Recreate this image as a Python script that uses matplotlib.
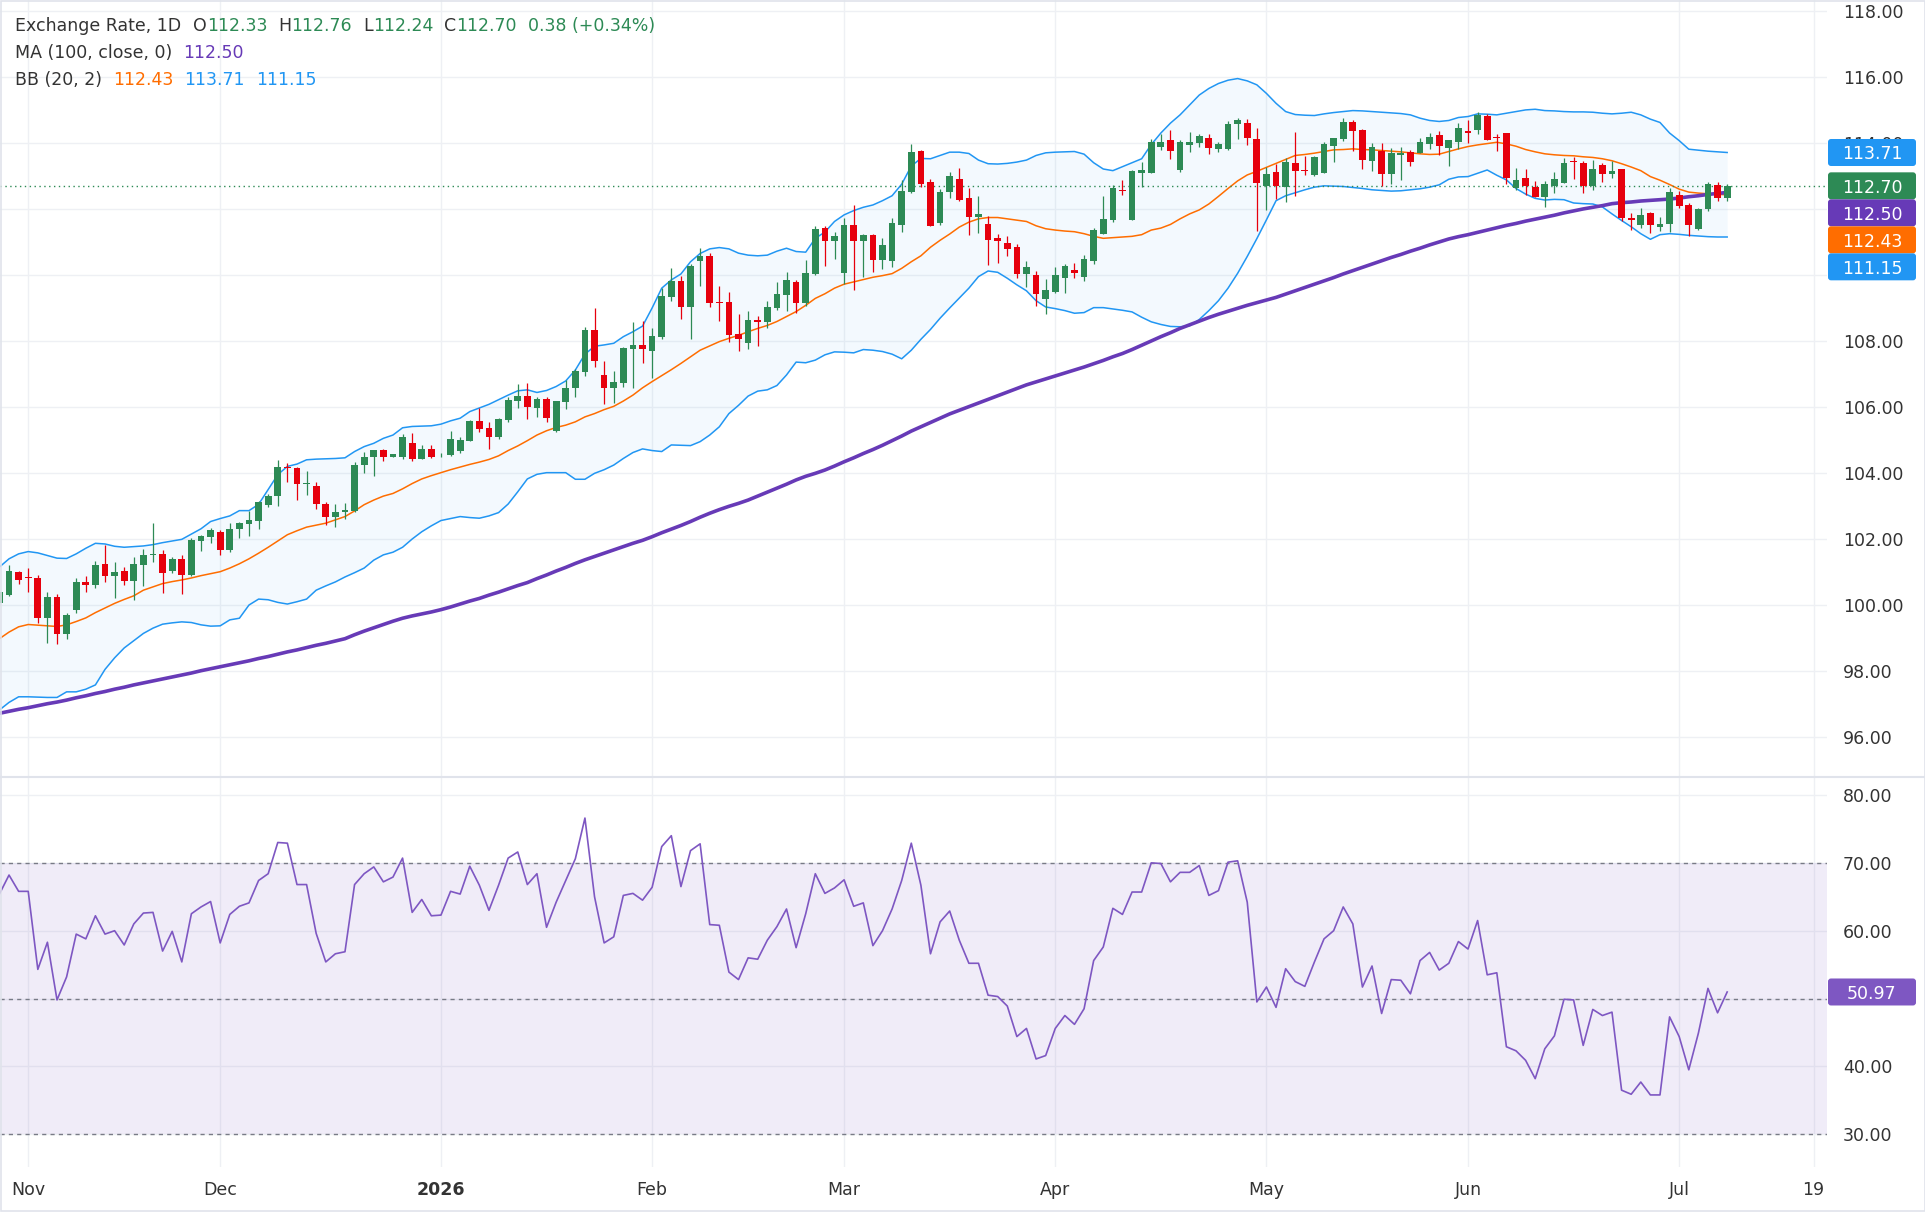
import matplotlib.pyplot as plt
import numpy as np
import pandas as pd
from matplotlib.patches import Rectangle, FancyBboxPatch
from matplotlib.transforms import IdentityTransform, Bbox
from matplotlib.lines import Line2D

# daily bars, 29 Oct 2025 .. 8 Jul 2026 (weekdays)
dates = pd.bdate_range('2025-10-29', '2026-07-08')

opens = [100.05, 100.30, 101.00, 100.85, 100.82, 99.62, 100.24, 99.13, 99.85, 100.69,
         100.61, 101.24, 100.89, 101.03, 100.74, 101.22, 101.52, 101.55, 101.04, 101.39,
         100.91, 101.95, 102.07, 102.22, 101.67, 102.29, 102.47, 102.56, 103.03, 103.30,
         104.17, 104.14, 103.68, 103.61, 103.06, 102.66, 102.81, 102.86, 104.24, 104.47,
         104.70, 104.49, 104.49, 104.91, 104.43, 104.73, 104.50, 104.56, 104.67, 104.97,
         105.58, 105.36, 105.10, 105.61, 106.19, 106.33, 105.98, 106.24, 105.28, 106.16,
         106.57, 107.07, 108.33, 106.97, 106.59, 106.74, 107.77, 107.87, 107.71, 108.13,
         109.34, 109.82, 109.04, 110.43, 110.58, 109.17, 109.18, 108.21, 107.95, 108.64,
         108.56, 109.01, 109.40, 109.79, 109.16, 110.03, 111.42, 111.04, 110.07, 111.52,
         111.04, 111.21, 110.46, 110.43, 111.52, 112.52, 113.76, 112.82, 111.58, 112.50,
         112.91, 112.33, 111.77, 111.55, 111.13, 110.97, 110.86, 110.03, 110.00, 109.27,
         109.47, 109.92, 110.15, 109.95, 110.42, 111.25, 111.65, 112.58, 111.65, 113.08,
         113.10, 113.89, 114.09, 113.18, 113.93, 113.99, 114.14, 113.83, 113.82, 114.57,
         114.60, 114.11, 112.71, 113.11, 112.65, 113.38, 113.17, 113.03, 113.10, 113.91,
         114.13, 114.64, 114.39, 113.46, 113.75, 113.07, 113.62, 113.73, 113.70, 113.97,
         114.24, 113.85, 114.03, 114.36, 114.39, 114.82, 114.18, 114.30, 112.62, 112.93,
         112.66, 112.35, 112.70, 112.79, 113.43, 113.39, 112.70, 113.33, 113.06, 113.21,
         111.73, 111.52, 111.89, 111.46, 111.55, 112.42, 112.12, 111.39, 112.00, 112.72,
         112.33]
highs = [100.45, 101.21, 101.03, 101.13, 100.91, 100.40, 100.33, 99.77, 100.83, 100.88,
         101.33, 101.82, 101.30, 101.15, 101.44, 101.70, 102.48, 101.67, 101.47, 101.52,
         102.02, 102.12, 102.34, 102.27, 102.48, 102.52, 102.85, 103.15, 103.36, 104.39,
         104.29, 104.19, 104.06, 103.72, 103.13, 103.06, 103.08, 104.32, 104.63, 104.70,
         104.72, 104.58, 105.17, 105.21, 104.85, 104.85, 104.60, 105.27, 105.08, 105.61,
         105.96, 105.54, 105.68, 106.31, 106.70, 106.72, 106.31, 106.31, 106.18, 106.82,
         107.14, 108.43, 109.01, 107.39, 107.09, 107.83, 108.58, 108.60, 108.40, 109.59,
         110.21, 109.96, 110.33, 110.82, 110.67, 109.67, 109.47, 108.82, 108.92, 108.76,
         109.21, 109.79, 110.09, 109.85, 110.45, 111.48, 111.48, 111.30, 111.72, 112.12,
         111.23, 111.24, 111.11, 111.72, 112.88, 113.98, 113.79, 112.90, 112.60, 113.12,
         113.24, 112.64, 112.39, 111.79, 111.25, 111.18, 110.94, 110.43, 110.12, 109.88,
         110.25, 110.32, 110.35, 110.61, 111.41, 112.39, 112.74, 112.88, 113.18, 113.42,
         114.11, 114.27, 114.39, 114.09, 114.33, 114.27, 114.27, 114.03, 114.66, 114.75,
         114.72, 114.45, 113.26, 113.35, 113.54, 114.32, 113.61, 113.61, 114.03, 114.15,
         114.76, 114.70, 114.42, 113.99, 113.99, 113.84, 113.89, 113.79, 114.15, 114.30,
         114.36, 114.09, 114.61, 114.70, 114.94, 114.88, 114.26, 114.30, 113.24, 113.21,
         112.85, 112.85, 113.12, 113.55, 113.58, 113.45, 113.48, 113.39, 113.45, 113.21,
         111.87, 112.02, 111.91, 111.75, 112.63, 112.53, 112.17, 112.03, 112.82, 112.82,
         112.76]
lows = [99.98, 100.27, 100.64, 100.40, 99.46, 98.84, 98.83, 98.98, 99.77, 100.40,
        100.53, 100.71, 100.22, 100.61, 100.15, 100.59, 101.31, 100.37, 100.98, 100.34,
        100.89, 101.65, 101.87, 101.52, 101.61, 102.04, 102.10, 102.30, 102.98, 103.01,
        103.74, 103.18, 103.33, 102.90, 102.42, 102.35, 102.60, 102.83, 104.01, 103.92,
        104.37, 104.47, 104.43, 104.37, 104.41, 104.46, 104.49, 104.53, 104.60, 104.97,
        105.25, 104.74, 105.04, 105.56, 105.98, 105.63, 105.69, 105.56, 105.25, 105.93,
        106.31, 106.95, 107.22, 106.09, 106.11, 106.62, 106.57, 107.32, 106.89, 108.07,
        109.22, 108.68, 108.07, 109.68, 109.04, 108.59, 107.98, 107.71, 107.77, 107.86,
        108.40, 108.94, 108.92, 108.84, 109.06, 110.00, 110.28, 110.48, 109.72, 109.55,
        109.95, 110.10, 110.17, 110.25, 111.31, 112.49, 112.65, 111.48, 111.52, 112.32,
        112.24, 111.21, 111.28, 110.30, 110.36, 110.56, 109.92, 109.65, 109.07, 108.81,
        109.44, 109.44, 109.92, 109.82, 110.33, 111.25, 111.59, 112.42, 111.65, 112.65,
        113.10, 113.79, 113.52, 113.13, 113.74, 113.89, 113.67, 113.71, 113.80, 114.13,
        113.94, 111.34, 111.97, 112.30, 112.22, 112.39, 113.03, 113.00, 113.10, 113.43,
        114.07, 113.77, 113.21, 113.16, 112.68, 112.76, 112.88, 113.30, 113.68, 113.82,
        113.62, 113.30, 113.82, 114.01, 114.27, 114.09, 113.76, 112.77, 112.58, 112.43,
        112.35, 112.07, 112.48, 112.79, 112.91, 112.49, 112.58, 112.82, 112.94, 111.62,
        111.35, 111.41, 111.26, 111.34, 111.31, 112.02, 111.19, 111.36, 111.94, 112.25,
        112.24]
closes = [100.40, 101.03, 100.76, 100.83, 99.62, 100.23, 99.13, 99.70, 100.69, 100.62,
          101.21, 100.89, 100.99, 100.74, 101.24, 101.52, 101.53, 100.98, 101.39, 100.91,
          101.98, 102.09, 102.27, 101.67, 102.30, 102.48, 102.58, 103.12, 103.30, 104.18,
          104.14, 103.66, 103.70, 103.05, 102.66, 102.82, 102.88, 104.24, 104.49, 104.70,
          104.49, 104.57, 105.09, 104.41, 104.73, 104.49, 104.53, 105.02, 105.00, 105.58,
          105.33, 105.10, 105.65, 106.21, 106.33, 106.01, 106.24, 105.66, 106.18, 106.58,
          107.10, 108.33, 107.40, 106.59, 106.75, 107.79, 107.87, 107.77, 108.15, 109.36,
          109.82, 109.04, 110.27, 110.58, 109.16, 109.15, 108.18, 108.07, 108.64, 108.56,
          109.03, 109.42, 109.85, 109.16, 110.06, 111.39, 111.04, 111.18, 111.52, 111.04,
          111.21, 110.46, 110.91, 111.58, 112.55, 113.71, 112.76, 111.48, 112.52, 113.00,
          112.27, 111.77, 111.85, 111.06, 111.04, 110.79, 110.03, 110.24, 109.43, 109.55,
          110.00, 110.27, 110.07, 110.48, 111.36, 111.70, 112.64, 112.53, 113.15, 113.18,
          114.03, 114.03, 113.77, 114.02, 114.03, 114.21, 113.86, 113.96, 114.58, 114.68,
          114.16, 112.78, 113.05, 112.68, 113.41, 113.16, 113.15, 113.57, 113.97, 114.15,
          114.62, 114.37, 113.49, 113.87, 113.07, 113.70, 113.70, 113.43, 114.03, 114.18,
          113.91, 114.08, 114.45, 114.31, 114.86, 114.09, 114.16, 112.95, 112.88, 112.68,
          112.35, 112.76, 112.91, 113.39, 113.41, 112.68, 113.21, 113.06, 113.15, 111.74,
          111.65, 111.82, 111.52, 111.55, 112.52, 112.10, 111.52, 112.01, 112.76, 112.32,
          112.70]

ma100 = [96.72, 96.78, 96.84, 96.89, 96.95, 97.01, 97.06, 97.12, 97.19, 97.25,
         97.32, 97.38, 97.45, 97.51, 97.58, 97.64, 97.70, 97.76, 97.82, 97.88,
         97.94, 98.01, 98.07, 98.13, 98.19, 98.25, 98.31, 98.38, 98.44, 98.51,
         98.58, 98.64, 98.71, 98.78, 98.84, 98.91, 98.98, 99.10, 99.21, 99.31,
         99.41, 99.51, 99.60, 99.67, 99.73, 99.79, 99.86, 99.94, 100.03, 100.12,
         100.20, 100.30, 100.39, 100.49, 100.59, 100.68, 100.80, 100.91, 101.03, 101.14,
         101.26, 101.37, 101.47, 101.57, 101.67, 101.77, 101.87, 101.96, 102.07, 102.19,
         102.30, 102.41, 102.53, 102.66, 102.78, 102.89, 102.99, 103.08, 103.18, 103.30,
         103.42, 103.54, 103.66, 103.79, 103.90, 103.99, 104.09, 104.21, 104.34, 104.46,
         104.59, 104.71, 104.84, 104.98, 105.12, 105.27, 105.40, 105.53, 105.66, 105.79,
         105.90, 106.01, 106.12, 106.23, 106.34, 106.45, 106.56, 106.67, 106.76, 106.85,
         106.94, 107.03, 107.12, 107.21, 107.31, 107.41, 107.52, 107.62, 107.74, 107.87,
         108.00, 108.13, 108.25, 108.38, 108.49, 108.60, 108.71, 108.81, 108.90, 108.99,
         109.08, 109.16, 109.24, 109.32, 109.42, 109.52, 109.62, 109.72, 109.82, 109.92,
         110.03, 110.13, 110.23, 110.33, 110.43, 110.53, 110.62, 110.72, 110.81, 110.91,
         111.00, 111.09, 111.16, 111.22, 111.29, 111.36, 111.43, 111.50, 111.56, 111.63,
         111.69, 111.75, 111.81, 111.88, 111.94, 112.00, 112.05, 112.10, 112.16, 112.19,
         112.21, 112.24, 112.26, 112.28, 112.30, 112.33, 112.37, 112.40, 112.44, 112.47,
         112.50]
bb_upper = [101.15, 101.40, 101.55, 101.62, 101.58, 101.50, 101.42, 101.41, 101.55, 101.72,
            101.87, 101.85, 101.78, 101.75, 101.77, 101.79, 101.83, 101.89, 101.94, 101.99,
            102.15, 102.31, 102.53, 102.62, 102.70, 102.86, 102.86, 103.05, 103.50, 103.95,
            104.20, 104.27, 104.40, 104.42, 104.43, 104.44, 104.46, 104.65, 104.80, 104.90,
            105.05, 105.15, 105.37, 105.41, 105.42, 105.43, 105.48, 105.58, 105.66, 105.86,
            105.97, 106.08, 106.22, 106.36, 106.49, 106.52, 106.44, 106.50, 106.62, 106.79,
            107.12, 107.60, 107.84, 107.88, 107.93, 108.13, 108.28, 108.45, 109.00, 109.60,
            109.85, 110.03, 110.40, 110.65, 110.79, 110.83, 110.79, 110.66, 110.60, 110.58,
            110.60, 110.72, 110.81, 110.71, 110.69, 111.11, 111.30, 111.62, 111.82, 111.95,
            112.05, 112.12, 112.25, 112.40, 112.75, 113.30, 113.53, 113.52, 113.62, 113.72,
            113.72, 113.68, 113.48, 113.37, 113.36, 113.38, 113.42, 113.48, 113.62, 113.70,
            113.72, 113.73, 113.74, 113.66, 113.40, 113.21, 113.16, 113.28, 113.40, 113.52,
            113.95, 114.30, 114.60, 114.85, 115.15, 115.45, 115.65, 115.80, 115.90, 115.95,
            115.88, 115.76, 115.50, 115.20, 114.95, 114.86, 114.84, 114.83, 114.88, 114.92,
            114.95, 114.98, 114.97, 114.95, 114.93, 114.91, 114.89, 114.85, 114.75, 114.68,
            114.65, 114.68, 114.77, 114.80, 114.88, 114.87, 114.85, 114.90, 114.95, 115.00,
            115.02, 114.98, 114.97, 114.95, 114.94, 114.94, 114.93, 114.90, 114.88, 114.90,
            114.93, 114.85, 114.72, 114.62, 114.30, 114.07, 113.81, 113.78, 113.75, 113.73,
            113.71]
bb_middle = [98.98, 99.18, 99.34, 99.41, 99.39, 99.37, 99.35, 99.40, 99.50, 99.61,
             99.77, 99.91, 100.05, 100.17, 100.28, 100.45, 100.55, 100.65, 100.71, 100.76,
             100.82, 100.89, 100.95, 101.01, 101.12, 101.25, 101.40, 101.57, 101.75, 101.94,
             102.13, 102.25, 102.36, 102.42, 102.48, 102.58, 102.68, 102.85, 103.04, 103.18,
             103.30, 103.38, 103.52, 103.68, 103.82, 103.92, 104.01, 104.10, 104.18, 104.26,
             104.33, 104.41, 104.52, 104.68, 104.82, 104.98, 105.15, 105.28, 105.38, 105.45,
             105.55, 105.70, 105.80, 105.92, 106.02, 106.18, 106.36, 106.58, 106.77, 106.95,
             107.13, 107.32, 107.52, 107.72, 107.85, 107.98, 108.08, 108.17, 108.28, 108.38,
             108.47, 108.59, 108.74, 108.89, 109.08, 109.29, 109.43, 109.60, 109.72, 109.79,
             109.86, 109.93, 109.98, 110.04, 110.20, 110.40, 110.58, 110.84, 111.05, 111.24,
             111.45, 111.60, 111.70, 111.74, 111.74, 111.70, 111.66, 111.62, 111.49, 111.40,
             111.36, 111.33, 111.31, 111.25, 111.17, 111.11, 111.13, 111.15, 111.17, 111.22,
             111.36, 111.42, 111.53, 111.70, 111.85, 111.97, 112.15, 112.38, 112.62, 112.85,
             113.03, 113.14, 113.26, 113.38, 113.50, 113.62, 113.65, 113.69, 113.74, 113.79,
             113.80, 113.82, 113.80, 113.79, 113.77, 113.75, 113.73, 113.70, 113.67, 113.65,
             113.66, 113.74, 113.82, 113.89, 113.94, 113.98, 114.02, 113.97, 113.90, 113.80,
             113.73, 113.67, 113.64, 113.62, 113.61, 113.58, 113.56, 113.52, 113.46, 113.37,
             113.27, 113.16, 112.98, 112.87, 112.74, 112.60, 112.51, 112.48, 112.46, 112.44,
             112.43]
bb_lower = [96.82, 97.05, 97.22, 97.22, 97.21, 97.20, 97.20, 97.37, 97.37, 97.45,
            97.58, 98.05, 98.40, 98.70, 98.92, 99.14, 99.30, 99.42, 99.46, 99.49,
            99.47, 99.40, 99.36, 99.37, 99.55, 99.60, 100.00, 100.18, 100.16, 100.08,
            100.03, 100.10, 100.18, 100.45, 100.58, 100.70, 100.85, 100.98, 101.12, 101.36,
            101.52, 101.60, 101.75, 102.00, 102.22, 102.40, 102.56, 102.62, 102.68, 102.65,
            102.63, 102.70, 102.80, 103.06, 103.43, 103.82, 103.96, 104.01, 104.01, 104.01,
            103.81, 103.81, 103.99, 104.10, 104.24, 104.44, 104.62, 104.73, 104.68, 104.65,
            104.85, 104.84, 104.83, 104.95, 105.15, 105.40, 105.80, 106.05, 106.33, 106.48,
            106.52, 106.65, 106.97, 107.36, 107.34, 107.42, 107.58, 107.67, 107.66, 107.64,
            107.74, 107.72, 107.68, 107.60, 107.46, 107.72, 108.05, 108.35, 108.69, 109.00,
            109.30, 109.60, 109.95, 110.12, 110.08, 109.90, 109.70, 109.52, 109.22, 109.03,
            108.98, 108.92, 108.84, 108.86, 109.01, 109.01, 108.97, 108.93, 108.88, 108.72,
            108.58, 108.50, 108.44, 108.43, 108.46, 108.65, 108.92, 109.22, 109.60, 110.05,
            110.56, 111.10, 111.67, 112.25, 112.40, 112.49, 112.58, 112.66, 112.70, 112.69,
            112.68, 112.65, 112.62, 112.58, 112.56, 112.54, 112.55, 112.58, 112.61, 112.66,
            112.73, 112.90, 112.97, 112.98, 113.08, 113.18, 113.02, 112.88, 112.62, 112.45,
            112.32, 112.27, 112.29, 112.28, 112.18, 112.16, 112.15, 112.06, 111.85, 111.65,
            111.46, 111.25, 111.08, 111.22, 111.25, 111.23, 111.20, 111.18, 111.16, 111.15,
            111.15]
rsi = [65.4, 68.2, 65.8, 65.8, 54.3, 58.3, 49.8, 53.2, 59.5, 58.8,
       62.2, 59.5, 60.0, 57.9, 61.0, 62.6, 62.7, 57.0, 59.9, 55.4,
       62.5, 63.5, 64.3, 58.2, 62.4, 63.6, 64.1, 67.4, 68.4, 73.0,
       72.9, 66.8, 66.8, 59.6, 55.4, 56.6, 56.9, 66.8, 68.4, 69.4,
       67.2, 67.9, 70.7, 62.7, 64.6, 62.2, 62.3, 65.8, 65.4, 69.5,
       66.7, 63.0, 66.7, 70.7, 71.6, 66.8, 68.4, 60.5, 64.2, 67.4,
       70.6, 76.6, 65.0, 58.2, 59.1, 65.2, 65.5, 64.5, 66.4, 72.4,
       74.0, 66.5, 71.8, 72.8, 60.9, 60.8, 53.9, 52.8, 56.0, 55.8,
       58.6, 60.6, 63.2, 57.5, 62.5, 68.4, 65.5, 66.3, 67.5, 63.6,
       64.1, 57.8, 60.0, 63.2, 67.4, 72.9, 66.7, 56.6, 61.3, 62.9,
       58.6, 55.2, 55.2, 50.5, 50.3, 48.9, 44.4, 45.6, 41.1, 41.6,
       45.6, 47.5, 46.2, 48.5, 55.6, 57.6, 63.3, 62.4, 65.7, 65.7,
       70.0, 69.9, 67.2, 68.6, 68.6, 69.6, 65.2, 65.9, 70.1, 70.3,
       64.2, 49.5, 51.7, 48.7, 54.4, 52.5, 51.8, 55.4, 58.8, 60.0,
       63.5, 61.0, 51.7, 54.8, 47.8, 52.8, 52.7, 50.7, 55.6, 56.8,
       54.2, 55.2, 58.4, 57.3, 61.5, 53.5, 53.8, 42.9, 42.3, 40.9,
       38.2, 42.6, 44.5, 49.9, 49.8, 43.1, 48.4, 47.5, 48.0, 36.5,
       35.9, 37.7, 35.8, 35.8, 47.3, 44.4, 39.5, 44.9, 51.5, 47.9,
       50.97]

price_ticks = [96, 98, 100, 102, 104, 106, 108, 110, 112, 114, 116, 118]
rsi_ticks = [30, 40, 50, 60, 70, 80]

GREEN = '#2D8A55'
RED = '#E6000D'
BLUE = '#2196F3'
ORANGE = '#FF6D00'
PURPLE = '#673AB7'
RSI_COL = '#7E57C2'
TXT = '#333333'
GRID = '#EEF0F4'
FS = 12.5

W, H = 1925, 1223
TAG_H = 27


def rect(x0, y0, x1, y1):
    # pixel box measured from top-left -> figure fraction
    return [x0 / W, 1 - y1 / H, (x1 - x0) / W, (y1 - y0) / H]


def main():
    plt.rcParams['font.family'] = 'DejaVu Sans'
    fig = plt.figure(figsize=(W / 100, H / 100), dpi=100)
    ax = fig.add_axes(rect(0, 0, 1827, 777))
    ax2 = fig.add_axes(rect(0, 777, 1827, 1167))

    x = np.arange(len(dates))
    o, h, l, c = (np.array(v) for v in (opens, highs, lows, closes))
    col = np.where(c >= o, GREEN, RED)

    # bollinger + MA
    ax.fill_between(x, bb_lower, bb_upper, color=BLUE, alpha=0.05, lw=0, zorder=1)
    ax.plot(x, bb_upper, color=BLUE, lw=1.1, zorder=2)
    ax.plot(x, bb_lower, color=BLUE, lw=1.1, zorder=2)
    ax.plot(x, bb_middle, color=ORANGE, lw=1.1, zorder=2)
    ax.plot(x, ma100, color=PURPLE, lw=2.6, zorder=2.5)
    ax.axhline(c[-1], color=GREEN, lw=1, ls=(0, (1, 2.5)), zorder=2)

    # candles
    ax.vlines(x, l, h, colors=col, lw=0.9, zorder=3)
    ax.bar(x, np.maximum(np.abs(c - o), 0.03), bottom=np.minimum(o, c),
           width=0.7, color=col, lw=0, zorder=3.5)

    # RSI
    ax2.axhspan(30, 70, color=RSI_COL, alpha=0.11, lw=0, zorder=1)
    for v in (30, 50, 70):
        ax2.axhline(v, color='#787B86', lw=1, ls=(0, (3, 3)), zorder=2)
    ax2.plot(x, rsi, color=RSI_COL, lw=1.2, zorder=3)

    # month ticks
    ticks, labels = [], []
    for k in range(1, len(dates)):
        if dates[k].month != dates[k - 1].month:
            ticks.append(k)
            labels.append(str(dates[k].year) if dates[k].month == 1 else dates[k].strftime('%b'))
    ticks.append(len(dates) + 8)
    labels.append('19')

    for a in (ax, ax2):
        a.set_xlim(0.06, 190.4)
        a.set_xticks(ticks)
        a.grid(True, color=GRID, lw=1)
        a.set_axisbelow(True)
        a.yaxis.tick_right()
        a.tick_params(length=0, labelsize=FS, labelcolor=TXT)
        a.tick_params(axis='y', pad=11.5)
        for s in a.spines.values():
            s.set_visible(False)

    # value tags cover some scale labels (as in the original)
    hidden_price = (110, 112)
    hidden_rsi = (50,)

    ax.set_ylim(94.79, 118.33)
    ax.set_yticks(price_ticks)
    ax.set_yticklabels(['' if v in hidden_price else f'{v:.2f}' for v in price_ticks])
    ax.tick_params(axis='x', labelbottom=False)

    ax2.set_ylim(25.18, 82.65)
    ax2.set_yticks(rsi_ticks)
    ax2.set_yticklabels(['' if v in hidden_rsi else f'{v:.2f}' for v in rsi_ticks])
    ax2.set_xticklabels(labels)
    ax2.tick_params(axis='x', pad=10)
    for t in ax2.get_xticklabels():
        if t.get_text() == '2026':
            t.set_fontweight('bold')

    # legend lines at the top
    def chain(x_px, y_px, parts):
        prev = ax.text(x_px / W, 1 - y_px / H, parts[0][0], transform=fig.transFigure,
                       color=parts[0][1], fontsize=FS, va='center', ha='left')
        for s, colr, gap in parts[1:]:
            prev = ax.annotate(s, xy=(1, 0.5), xycoords=prev, xytext=(gap, 0),
                               textcoords='offset pixels', color=colr, fontsize=FS,
                               va='center', ha='left', annotation_clip=False)

    chg = c[-1] - c[-2]
    chain(15, 26, [('Exchange Rate, 1D', TXT, 0),
                   ('O', TXT, 12), (f'{o[-1]:.2f}', GREEN, 0),
                   ('H', TXT, 11), (f'{h[-1]:.2f}', GREEN, 0),
                   ('L', TXT, 11), (f'{l[-1]:.2f}', GREEN, 0),
                   ('C', TXT, 11), (f'{c[-1]:.2f}', GREEN, 0),
                   (f'{chg:.2f} (+{chg / c[-2] * 100:.2f}%)', GREEN, 11)])
    chain(15, 53, [('MA (100, close, 0)', TXT, 0), (f'{ma100[-1]:.2f}', PURPLE, 11)])
    chain(15, 80, [('BB (20, 2)', TXT, 0), (f'{bb_middle[-1]:.2f}', ORANGE, 11),
                   (f'{bb_upper[-1]:.2f}', BLUE, 11), (f'{bb_lower[-1]:.2f}', BLUE, 11)])
    chain(15, 804, [('RSI (14)', TXT, 0), (f'{rsi[-1]:.2f}', RSI_COL, 11)])

    # value tags on the price scale
    def tags(axis, items):
        last = None
        tops = []
        for val, colr in items:
            y = axis.transData.transform((0, val))[1]
            if last is not None:
                y = min(y, last - TAG_H)
            last = y
            tops.append(y + TAG_H / 2)
            fig.add_artist(FancyBboxPatch((1828, y - TAG_H / 2), 88, TAG_H,
                                          boxstyle='round,pad=0,rounding_size=3',
                                          transform=IdentityTransform(), fc=colr, ec='none'))
            fig.text(1872, y, f'{val:.2f}', transform=IdentityTransform(), color='white',
                     fontsize=FS, ha='center', va='center_baseline')
        return tops

    tops = tags(ax, [(bb_upper[-1], BLUE), (c[-1], GREEN), (ma100[-1], PURPLE),
                     (bb_middle[-1], ORANGE), (bb_lower[-1], BLUE)])
    tags(ax2, [(rsi[-1], RSI_COL)])

    # 114.00 peeks out above the first tag
    for t in ax.get_yticklabels():
        if t.get_text() == '114.00':
            t.set_clip_box(Bbox.from_extents(0, tops[0], W, H))
            t.set_clip_on(True)

    fig.add_artist(Line2D([0, W], [H - 777, H - 777], transform=IdentityTransform(),
                          color='#E0E3EB', lw=1.5))
    fig.add_artist(Rectangle((0.5, 12), W - 1, H - 12.5, transform=IdentityTransform(),
                             fill=False, ec='#E0E3EB', lw=1.2))

    fig.savefig('out.png', dpi=100, facecolor='white')


if __name__ == '__main__':
    main()
